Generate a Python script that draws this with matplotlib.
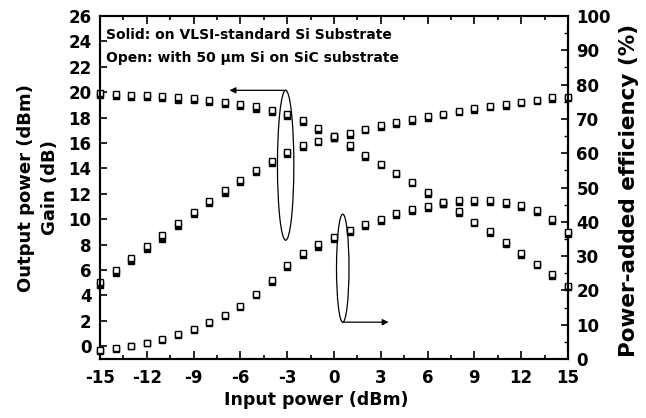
import numpy as np
import matplotlib
matplotlib.use('Agg')
import matplotlib.pyplot as plt
from matplotlib.patches import Ellipse
from matplotlib.ticker import MultipleLocator

plt.rcParams['font.family'] = ['DejaVu Sans']
plt.rcParams['font.weight'] = 'bold'
plt.rcParams['axes.unicode_minus'] = False

pin = list(range(-15, 16))

# gain (dB), left axis
gain_open = [19.92, 19.88, 19.80, 19.80, 19.74, 19.61, 19.53, 19.41, 19.27, 19.09, 18.88,
             18.62, 18.30, 17.80, 17.20, 16.55, 15.85, 15.05, 14.38, 13.67, 12.95,
             12.16, 11.33, 10.68, 9.82, 9.04, 8.20, 7.34, 6.51, 5.66, 4.77]
gain_solid = [19.75, 19.70, 19.62, 19.60, 19.55, 19.42, 19.36, 19.22, 19.08, 18.90, 18.70,
              18.45, 18.10, 17.62, 17.05, 16.40, 15.70, 14.92, 14.25, 13.53, 12.82,
              12.02, 11.20, 10.53, 9.70, 8.92, 8.08, 7.22, 6.40, 5.55, 4.66]

# output power (dBm), left axis
pout_open = [5.08, 5.99, 6.95, 7.89, 8.78, 9.69, 10.60, 11.46, 12.30, 13.08, 13.88,
             14.59, 15.29, 15.84, 16.20, 16.54, 16.80, 17.14, 17.40, 17.66, 17.90,
             18.10, 18.31, 18.55, 18.75, 18.94, 19.06, 19.27, 19.41, 19.59, 19.65]
pout_solid = [4.85, 5.80, 6.75, 7.65, 8.45, 9.50, 10.40, 11.25, 12.10, 12.90, 13.70,
              14.42, 15.10, 15.68, 16.05, 16.40, 16.65, 17.00, 17.26, 17.52, 17.77,
              17.97, 18.18, 18.42, 18.62, 18.81, 18.93, 19.14, 19.28, 19.45, 19.52]

# power-added efficiency (%), right axis
pae_open = [2.6, 3.1, 3.9, 4.8, 5.8, 7.2, 8.7, 10.7, 12.8, 15.5, 19.1,
            23.0, 27.4, 30.8, 33.4, 35.5, 37.6, 39.3, 40.8, 42.5, 43.7,
            44.6, 45.9, 46.4, 46.4, 46.4, 45.9, 44.9, 43.4, 40.8, 37.1]
pae_solid = [2.4, 2.9, 3.7, 4.6, 5.6, 7.0, 8.5, 10.5, 12.5, 15.1, 18.6,
             22.4, 26.8, 30.2, 32.8, 34.9, 37.0, 38.7, 40.2, 41.9, 43.1,
             44.0, 45.2, 45.8, 45.8, 45.8, 45.3, 44.3, 42.8, 40.2, 36.5]

fig = plt.figure(figsize=(6.46, 4.18), dpi=100)
ax = fig.add_axes([0.1548, 0.1411, 0.7245, 0.8206])
ax2 = ax.twinx()

ms = 4.4
solid_kw = dict(ls='none', marker='s', ms=ms, mfc='black', mec='black', mew=1.0, clip_on=False)
open_kw = dict(ls='none', marker='s', ms=ms, mfc='white', mec='black', mew=1.0, clip_on=False)

ax.plot(pin, gain_solid, zorder=3, **solid_kw)
ax.plot(pin, pout_solid, zorder=3, **solid_kw)
ax.plot(pin, gain_open, zorder=4, **open_kw)
ax.plot(pin, pout_open, zorder=4, **open_kw)
ax2.plot(pin, pae_solid, zorder=3, **solid_kw)
ax2.plot(pin, pae_open, zorder=4, **open_kw)

ax.set_xlim(-15, 15)
ax.set_ylim(-1, 26)
ax2.set_ylim(0, 100)

ax.xaxis.set_major_locator(MultipleLocator(3))
ax.xaxis.set_minor_locator(MultipleLocator(1.5))
ax.set_yticks(np.arange(0, 27, 2))
ax2.yaxis.set_major_locator(MultipleLocator(10))
ax2.yaxis.set_minor_locator(MultipleLocator(5))

ax.tick_params(axis='x', which='both', direction='in', top=True, labelsize=12, width=1.2, pad=7)
ax.tick_params(axis='x', which='major', length=6)
ax.tick_params(axis='x', which='minor', length=3)
ax.tick_params(axis='y', which='major', direction='in', right=False, labelsize=12, length=5,
               width=1.2, pad=6)
ax2.tick_params(axis='y', which='major', direction='in', labelsize=12, length=5, width=1.2, pad=6)
ax2.tick_params(axis='y', which='minor', direction='in', length=3, width=1.0)
for a in (ax, ax2):
    for sp in a.spines.values():
        sp.set_linewidth(1.5)
    for lab in a.get_xticklabels() + a.get_yticklabels():
        lab.set_fontweight('bold')

ax.set_xlabel('Input power (dBm)', fontsize=12.5, fontweight='bold')
ax.xaxis.set_label_coords(0.4615, -0.093)

fig.text(26 / 646, 1 - 188 / 418, 'Output power (dBm)', rotation=90, ha='center', va='center',
         fontsize=13, fontweight='bold')
fig.text(50 / 646, 1 - 188 / 418, 'Gain (dB)', rotation=90, ha='center', va='center',
         fontsize=13, fontweight='bold')
fig.text(629 / 646, 1 - 190 / 418, 'Power-added efficiency (%)', rotation=90, ha='center',
         va='center', fontsize=15.5, fontweight='bold')

ax.text(-14.6, 24.5, 'Solid: on VLSI-standard Si Substrate', fontsize=10, fontweight='bold', va='center')
ax.text(-14.6, 22.7, 'Open: with 50 \u03bcm Si on SiC substrate', fontsize=10, fontweight='bold', va='center')

# ellipse + arrow for left-axis curves
ax.add_patch(Ellipse((-3.1, 14.25), 1.05, 11.8, fill=False, lw=0.9, ec='black', zorder=5))
ax.annotate('', xy=(-6.7, 20.15), xytext=(-3.1, 20.15),
            arrowprops=dict(arrowstyle='-|>', lw=0.9, color='black', mutation_scale=9,
                            shrinkA=0, shrinkB=0))
# ellipse + arrow for PAE
ax.add_patch(Ellipse((0.56, 6.15), 0.8, 8.5, fill=False, lw=0.9, ec='black', zorder=5))
ax.annotate('', xy=(3.5, 1.9), xytext=(0.56, 1.9),
            arrowprops=dict(arrowstyle='-|>', lw=0.9, color='black', mutation_scale=9,
                            shrinkA=0, shrinkB=0))

plt.savefig('out.png', dpi=100)
